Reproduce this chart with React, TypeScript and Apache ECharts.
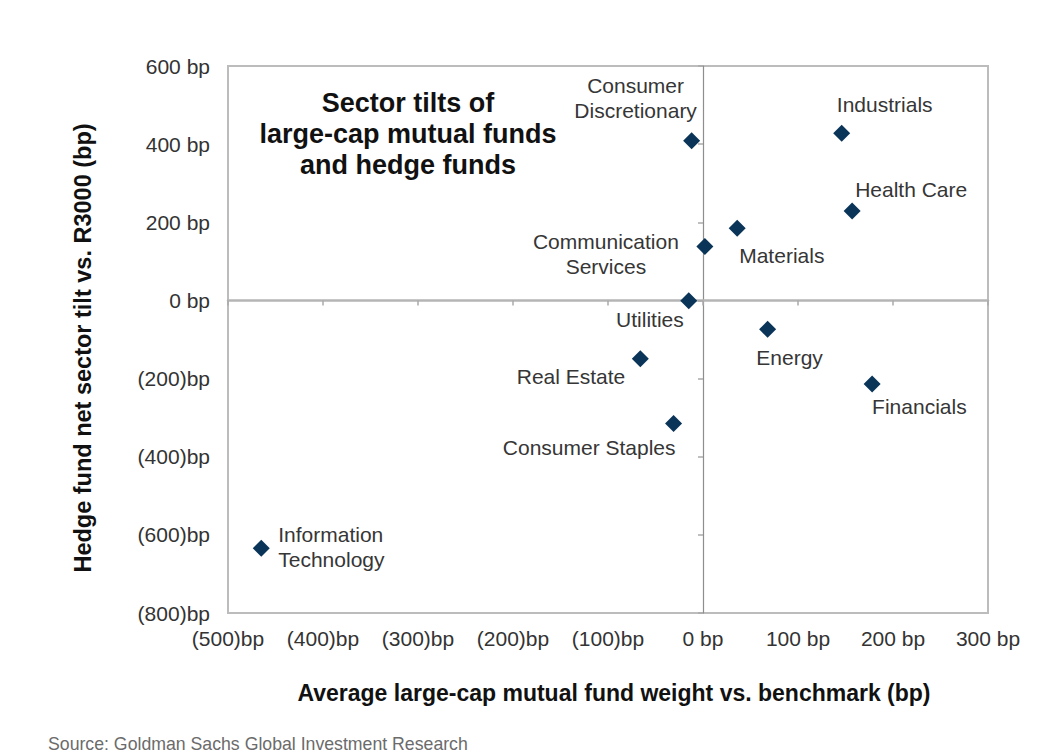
import React, { useEffect, useRef } from "react";
import * as echarts from "echarts";

// sector tilts: mutual fund weight (x) vs hedge fund net tilt (y), in bp
const sectors = [
  "Consumer\nDiscretionary",
  "Industrials",
  "Health Care",
  "Materials",
  "Communication\nServices",
  "Utilities",
  "Energy",
  "Real Estate",
  "Financials",
  "Consumer Staples",
  "Information\nTechnology",
];
const mfWeight = [-12, 146, 157, 36, 2, -15, 68, -66, 178, -31, -465];
const hfTilt = [409, 428, 229, 185, 138, -1, -74, -149, -214, -315, -634];

const xMin = -500;
const xMax = 300;
const xStep = 100;
const yMin = -800;
const yMax = 600;
const yStep = 200;

const FONT = "'Liberation Sans', Arial, Helvetica, sans-serif";

// where each point's label sits relative to its marker
const labelPlacement: Record<string, { dx: number; dy: number; align: string }> = {
  "Consumer\nDiscretionary": { dx: -56, dy: -43, align: "center" },
  Industrials: { dx: 43, dy: -29, align: "center" },
  "Health Care": { dx: 3, dy: -21, align: "left" },
  Materials: { dx: 2, dy: 27, align: "left" },
  "Communication\nServices": { dx: -99, dy: 7, align: "center" },
  Utilities: { dx: -5, dy: 19, align: "right" },
  Energy: { dx: 22, dy: 28, align: "center" },
  "Real Estate": { dx: -15, dy: 18, align: "right" },
  Financials: { dx: 0, dy: 22, align: "left" },
  "Consumer Staples": { dx: 2, dy: 24, align: "right" },
  "Information\nTechnology": { dx: 17, dy: -1, align: "left" },
};

const bp = (v: number) => (v < 0 ? `(${-v})bp` : `${v} bp`);

export default function App() {
  const chartRef = useRef<HTMLDivElement>(null);

  useEffect(() => {
    document.body.style.margin = "0";
    if (!chartRef.current) return;
    const chart = echarts.init(chartRef.current, undefined, { renderer: "svg" });

    const data = sectors.map((name, i) => {
      const p = labelPlacement[name];
      return {
        name,
        value: [mfWeight[i], hfTilt[i]],
        label: { offset: [p.dx, p.dy], align: p.align },
      };
    });

    const zeroLine = { color: "#b5b5b5", width: 2.5 };
    const zeroLineV = { color: "#8e8e8e", width: 1.2 };

    const option: any = {
      animation: false,
      backgroundColor: "#ffffff",
      textStyle: { fontFamily: FONT },
      grid: {
        left: 228,
        top: 66,
        width: 760,
        height: 547,
        show: true,
        borderColor: "#bcbcbc",
        borderWidth: 2,
        outerBoundsMode: "none",
      },
      xAxis: [
        {
          type: "value",
          min: xMin,
          max: xMax,
          interval: xStep,
          position: "bottom",
          axisLine: { show: false, onZero: false },
          axisTick: { show: false },
          splitLine: { show: false },
          axisLabel: { formatter: bp, color: "#333", fontSize: 21, margin: 15, fontFamily: FONT },
          name: "Average large-cap mutual fund weight vs. benchmark (bp)",
          nameLocation: "middle",
          nameGap: 68,
          nameTextStyle: { fontSize: 23, fontWeight: "bold", color: "#111", fontFamily: FONT, padding: [0, 0, 0, 12] },
        },
        {
          type: "value",
          min: xMin,
          max: xMax,
          interval: xStep,
          position: "bottom",
          axisLine: { show: true, onZero: true, lineStyle: zeroLine },
          axisTick: { show: true, length: 5, lineStyle: { color: "#aaa", width: 1.5 } },
          axisLabel: { show: false },
          splitLine: { show: false },
        },
      ],
      yAxis: [
        {
          type: "value",
          min: yMin,
          max: yMax,
          interval: yStep,
          position: "left",
          axisLine: { show: false, onZero: false },
          axisTick: { show: false },
          splitLine: { show: false },
          axisLabel: { formatter: bp, color: "#333", fontSize: 21, margin: 18, fontFamily: FONT },
          name: "Hedge fund net sector tilt vs. R3000 (bp)",
          nameLocation: "middle",
          nameGap: 133,
          nameTextStyle: { fontSize: 23.5, fontWeight: "bold", color: "#111", fontFamily: FONT, padding: [0, 17, 0, 0] },
        },
        {
          type: "value",
          min: yMin,
          max: yMax,
          interval: yStep,
          position: "left",
          axisLine: { show: true, onZero: true, lineStyle: zeroLineV },
          axisTick: { show: true, length: 5, lineStyle: { color: "#aaa", width: 1.5 } },
          axisLabel: { show: false },
          splitLine: { show: false },
        },
      ],
      series: [
        {
          type: "scatter",
          xAxisIndex: 0,
          yAxisIndex: 0,
          symbol: "diamond",
          symbolSize: 17,
          itemStyle: { color: "#0a3558", opacity: 1 },
          emphasis: { disabled: true },
          label: {
            show: true,
            position: "inside",
            verticalAlign: "middle",
            formatter: (p: any) => p.name,
            color: "#363636",
            fontSize: 21,
            lineHeight: 25,
            fontFamily: FONT,
            textBorderWidth: 0,
          },
          data,
        },
      ],
      graphic: [
        {
          type: "text",
          x: 408,
          y: 87,
          style: {
            text: "Sector tilts of\nlarge-cap mutual funds\nand hedge funds",
            font: `bold 27px ${FONT}`,
            fill: "#111",
            align: "center",
            verticalAlign: "top",
            lineHeight: 31,
          },
        },
        {
          type: "text",
          x: 48,
          y: 744,
          style: {
            text: "Source: Goldman Sachs Global Investment Research",
            font: `17.7px ${FONT}`,
            fill: "#6b6b6b",
            align: "left",
            verticalAlign: "middle",
          },
        },
      ],
    };

    chart.setOption(option);

    return () => {
      chart.dispose();
    };
  }, []);

  return <div ref={chartRef} style={{ width: 1044, height: 756 }} />;
}
